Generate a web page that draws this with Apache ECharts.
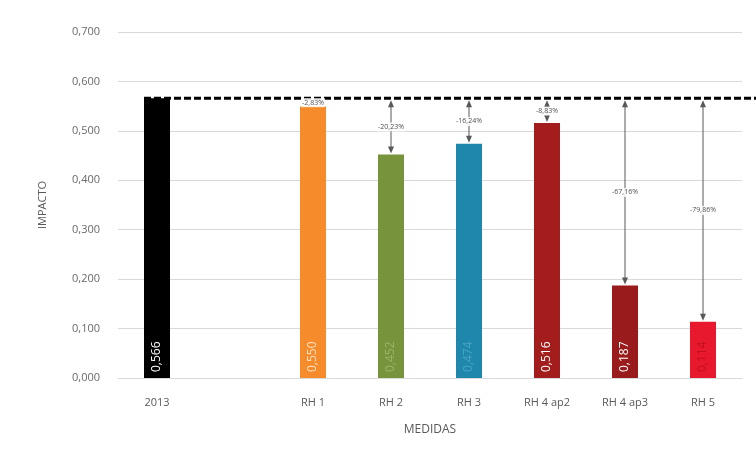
<!DOCTYPE html>
<html>
<head>
<meta charset="utf-8">
<script src="https://cdn.jsdelivr.net/npm/echarts@6/dist/echarts.min.js"></script>
<style>html,body{margin:0;padding:0;background:#fff}#c{width:756px;height:456px}</style>
</head>
<body>
<div id="c"></div>
<script>
var categories = ['2013', '', 'RH 1', 'RH 2', 'RH 3', 'RH 4 ap2', 'RH 4 ap3', 'RH 5'];
var values = [0.566, null, 0.550, 0.452, 0.474, 0.516, 0.187, 0.114];
var valueLabels = ['0,566', '', '0,550', '0,452', '0,474', '0,516', '0,187', '0,114'];
var pctLabels = ['', '', '-2,83%', '-20,23%', '-16,24%', '-8,83%', '-67,16%', '-79,86%'];
var baseline = 0.566;
var yTicks = ['0,000', '0,100', '0,200', '0,300', '0,400', '0,500', '0,600', '0,700'];

var barColors = ['#000000', '#ffffff', '#F58B2A', '#77933C', '#1F87AC', '#A31D1D', '#9A1B1B', '#E8182E'];
var labelColors = ['#ffffff', '#ffffff', '#ffe2c4', '#9cb56a', '#4aa5c4', '#ffffff', '#ffffff', '#c0101e'];

var barData = values.map(function (v, i) {
  return {
    value: v,
    itemStyle: { color: barColors[i] },
    label: { color: labelColors[i], formatter: valueLabels[i] }
  };
});

var arrowData = [];
for (var i = 0; i < categories.length; i++) {
  if (pctLabels[i]) arrowData.push([i, baseline, values[i], pctLabels[i]]);
}

var chart = echarts.init(document.getElementById('c'), null, { renderer: 'canvas' });
chart.setOption({
  backgroundColor: '#ffffff',
  animation: false,
  grid: { left: 118, right: 14, top: 32, bottom: 78 },
  xAxis: {
    type: 'category',
    data: categories,
    name: 'MEDIDAS',
    nameLocation: 'middle',
    nameGap: 46,
    nameTextStyle: { color: '#595959', fontSize: 12, fontFamily: 'Open Sans' },
    axisLine: { lineStyle: { color: '#d9d9d9' } },
    axisTick: { show: false },
    axisLabel: { color: '#595959', fontSize: 11, fontFamily: 'Open Sans', margin: 19 }
  },
  yAxis: {
    type: 'value',
    min: 0, max: 0.7, interval: 0.1,
    name: 'IMPACTO',
    nameLocation: 'middle',
    nameGap: 70,
    nameTextStyle: { color: '#595959', fontSize: 11, fontFamily: 'Open Sans' },
    axisLine: { show: false },
    axisTick: { show: false },
    axisLabel: {
      color: '#6a6a6a', fontSize: 11, fontFamily: 'Open Sans', margin: 18,
      formatter: function (v) { return yTicks[Math.round(v * 10)]; }
    },
    splitLine: { lineStyle: { color: '#d9d9d9' } }
  },
  series: [
    {
      type: 'bar',
      data: barData,
      barWidth: 26,
      label: {
        show: true,
        position: 'insideBottom',
        rotate: 90,
        align: 'left',
        verticalAlign: 'middle',
        distance: 6,
        fontSize: 12,
        fontFamily: 'Open Sans'
      },
      z: 2
    },
    {
      type: 'custom',
      data: [[0, baseline]],
      z: 5,
      renderItem: function (params, api) {
        var p = api.coord([api.value(0), api.value(1)]);
        return {
          type: 'line',
          shape: { x1: p[0] - 13, y1: p[1], x2: api.getWidth(), y2: p[1] },
          style: { stroke: '#000', lineWidth: 3, lineDash: [7, 3] }
        };
      }
    },
    {
      type: 'custom',
      data: arrowData,
      z: 6,
      renderItem: function (params, api) {
        var idx = api.value(0);
        var a = api.coord([idx, api.value(1)]);
        var b = api.coord([idx, api.value(2)]);
        var x = a[0], y0 = a[1] + 2, y1 = b[1] - 1;
        var txt = arrowData[params.dataIndex][3];
        var children = [];
        if (y1 - y0 > 14) {
          children.push({
            type: 'line',
            shape: { x1: x, y1: y0 + 5, x2: x, y2: y1 - 5 },
            style: { stroke: '#595959', lineWidth: 1 }
          });
          children.push({
            type: 'polygon',
            shape: { points: [[x, y0], [x - 3, y0 + 7], [x + 3, y0 + 7]] },
            style: { fill: '#595959' }
          });
          children.push({
            type: 'polygon',
            shape: { points: [[x, y1], [x - 3, y1 - 7], [x + 3, y1 - 7]] },
            style: { fill: '#595959' }
          });
        }
        children.push({
          type: 'text',
          style: {
            x: x, y: (y0 + y1) / 2,
            text: txt,
            align: 'center', verticalAlign: 'middle',
            fontSize: 7, fontFamily: 'Open Sans',
            fill: '#505050',
            backgroundColor: 'rgba(255,255,255,0.85)',
            padding: [1, 1]
          }
        });
        return { type: 'group', children: children };
      }
    }
  ]
});
</script>
</body>
</html>
